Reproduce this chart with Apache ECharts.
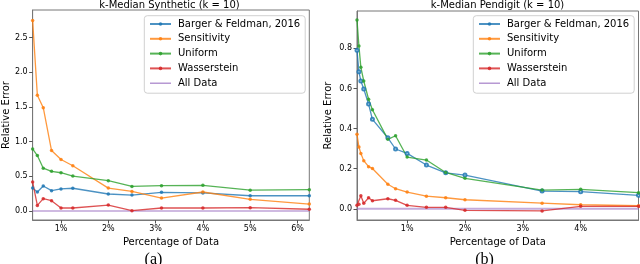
<!DOCTYPE html>
<html>
<head>
<meta charset="utf-8">
<script src="https://cdn.jsdelivr.net/npm/echarts@6/dist/echarts.min.js"></script>
<style>
html,body{margin:0;padding:0;background:#fff;}
#c{width:640px;height:264px;}
</style>
</head>
<body>
<div id="c"></div>
<script>
// ---- Data: (a) k-Median Synthetic ----
const xSynthetic = [0.4, 0.5, 0.625, 0.8, 1, 1.25, 2, 2.5, 3.125, 4, 5, 6.25];
const synBarger = [0.33, 0.274, 0.36, 0.293, 0.318, 0.328, 0.245, 0.23, 0.27, 0.26, 0.22, 0.22];
const synSensitivity = [2.75, 1.67, 1.49, 0.872, 0.743, 0.653, 0.33, 0.283, 0.187, 0.274, 0.168, 0.10];
const synUniform = [0.895, 0.80, 0.617, 0.572, 0.552, 0.504, 0.437, 0.355, 0.365, 0.37, 0.30, 0.307];
const synWasserstein = [0.42, 0.08, 0.178, 0.148, 0.043, 0.043, 0.086, 0.005, 0.043, 0.043, 0.048, 0.025];
const synAllData = [0, 0, 0, 0, 0, 0, 0, 0, 0, 0, 0, 0];
const synXTicks = [1, 2, 3, 4, 5, 6];
const synYTicks = [0, 0.5, 1.0, 1.5, 2.0, 2.5];

// ---- Data: (b) k-Median Pendigit ----
const xPendigit = [0.1333, 0.1667, 0.2, 0.25, 0.3333, 0.4, 0.6667, 0.8, 1, 1.3333, 1.6667, 2, 3.3333, 4, 5];
const penBarger = [0.79, 0.683, 0.637, 0.597, 0.522, 0.446, 0.354, 0.298, 0.276, 0.218, 0.179, 0.168, 0.088, 0.085, 0.067];
const penSensitivity = [0.371, 0.308, 0.276, 0.24, 0.21, 0.201, 0.122, 0.10, 0.083, 0.063, 0.055, 0.045, 0.028, 0.02, 0.015];
const penUniform = [0.941, 0.811, 0.705, 0.637, 0.546, 0.494, 0.346, 0.364, 0.258, 0.243, 0.181, 0.152, 0.093, 0.097, 0.080];
const penWasserstein = [0.017, 0.022, 0.065, 0.027, 0.055, 0.04, 0.05, 0.042, 0.017, 0.007, 0.007, -0.008, -0.011, 0.012, 0.012];
const penAllData = [0, 0, 0, 0, 0, 0, 0, 0, 0, 0, 0, 0, 0, 0, 0];
const penXTicks = [1, 2, 3, 4];
const penYTicks = [0, 0.2, 0.4, 0.6, 0.8];

const names = ['Barger & Feldman, 2016', 'Sensitivity', 'Uniform', 'Wasserstein', 'All Data'];
const colors = ['#1f77b4', '#ff7f0e', '#2ca02c', '#d62728', '#9467bd'];

const FONT = 'DejaVu Sans';
const zip = (xs, ys) => xs.map((x, i) => [x, ys[i]]);

function mkSeries(gi, xs, ys, idx, opts) {
  opts = opts || {};
  return {
    type: 'line',
    name: names[idx],
    xAxisIndex: gi, yAxisIndex: gi,
    data: zip(xs, ys),
    symbol: opts.symbol || 'circle',
    symbolSize: opts.symbolSize || 3.5,
    showSymbol: opts.noSymbol ? false : true,
    clip: true,
    animation: false,
    color: colors[idx],
    itemStyle: {color: colors[idx], opacity: 0.85, borderWidth: opts.borderWidth || 0, borderColor: colors[idx]},
    lineStyle: {color: colors[idx], width: opts.width || 1.3, opacity: opts.opacity || 0.8},
    emphasis: {disabled: true},
    z: opts.z || 2
  };
}

function xAxisCfg(gi, min, max, ticks) {
  return {
    type: 'value', gridIndex: gi, min: min, max: max,
    name: 'Percentage of Data', nameLocation: 'middle', nameGap: 12,
    nameTextStyle: {fontFamily: FONT, fontSize: 10, color: '#000'},
    axisLine: {show: true, onZero: false, lineStyle: {color: '#777', width: 1}},
    axisTick: {show: true, length: 3.5, customValues: ticks, lineStyle: {color: '#555'}},
    axisLabel: {customValues: ticks, formatter: v => v + '%', fontFamily: FONT, fontSize: 8, color: '#000', margin: 5},
    splitLine: {show: false}
  };
}
function yAxisCfg(gi, min, max, ticks, gap) {
  return {
    type: 'value', gridIndex: gi, min: min, max: max,
    name: 'Relative Error', nameLocation: 'middle', nameGap: gap,
    nameTextStyle: {fontFamily: FONT, fontSize: 10, color: '#000'},
    axisLine: {show: true, onZero: false, lineStyle: {color: '#777', width: 1}},
    axisTick: {show: true, length: 3.5, customValues: ticks, lineStyle: {color: '#555'}},
    axisLabel: {customValues: ticks, formatter: v => v.toFixed(1), fontFamily: FONT, fontSize: 8, color: '#000', margin: 5},
    splitLine: {show: false}
  };
}
function legendCfg(left, top, hollowFirst) {
  const data = names.map((n, i) => {
    if (i === 4) return {name: n, icon: 'path://M0,0H21V1.2H0Z'};
    return {name: n};
  });
  return {
    left: left, top: top, orient: 'vertical',
    itemWidth: 21, itemHeight: 4.5, itemGap: 4.8,
    padding: [3.3, 5, 5, 4.7],
    backgroundColor: 'rgba(255,255,255,0.85)',
    borderColor: '#d0d0d0', borderWidth: 1, borderRadius: 3,
    textStyle: {fontFamily: FONT, fontSize: 10, color: '#000', padding: [0, 0, 0, 2]},
    selectedMode: false,
    data: data
  };
}

const chart = echarts.init(document.getElementById('c'), null, {renderer: 'canvas'});
chart.setOption({
  animation: false,
  backgroundColor: '#fff',
  grid: [
    {left: 28.5, right: 330.7, top: 10, bottom: 44, show: true, borderColor: '#777', borderWidth: 1, containLabel: false},
    {left: 357, right: 1.5, top: 11, bottom: 44, show: true, borderColor: '#777', borderWidth: 1, containLabel: false}
  ],
  xAxis: [
    xAxisCfg(0, 0.4, 6.25, synXTicks),
    xAxisCfg(1, 0.1333, 5, penXTicks)
  ],
  yAxis: [
    yAxisCfg(0, -0.13, 2.9, synYTicks, 18),
    yAxisCfg(1, -0.056, 0.986, penYTicks, 23.5)
  ],
  legend: [legendCfg(144.3, 15.7), legendCfg(473.3, 15.7)],
  graphic: [
    {type: 'text', x: 169.5, y: 5, style: {text: 'k-Median Synthetic (k = 10)', fontFamily: FONT, fontSize: 10, fill: '#000', align: 'center', verticalAlign: 'middle'}},
    {type: 'text', x: 497.5, y: 5, style: {text: 'k-Median Pendigit (k = 10)', fontFamily: FONT, fontSize: 10, fill: '#000', align: 'center', verticalAlign: 'middle'}},
    {type: 'text', x: 153.5, y: 252, style: {text: '(a)', fontFamily: 'Liberation Serif', fontSize: 16, fill: '#000', align: 'center', verticalAlign: 'top'}},
    {type: 'text', x: 484.5, y: 252, style: {text: '(b)', fontFamily: 'Liberation Serif', fontSize: 16, fill: '#000', align: 'center', verticalAlign: 'top'}}
  ],
  series: [
    mkSeries(0, xSynthetic, synBarger, 0),
    mkSeries(0, xSynthetic, synSensitivity, 1),
    mkSeries(0, xSynthetic, synUniform, 2),
    mkSeries(0, xSynthetic, synWasserstein, 3),
    mkSeries(0, xSynthetic, synAllData, 4, {noSymbol: true, symbol: 'none', width: 1.2, opacity: 0.9, z: 1}),
    mkSeries(1, xPendigit, penBarger, 0, {symbol: 'emptyCircle', symbolSize: 3, borderWidth: 1}),
    mkSeries(1, xPendigit, penSensitivity, 1),
    mkSeries(1, xPendigit, penUniform, 2),
    mkSeries(1, xPendigit, penWasserstein, 3),
    mkSeries(1, xPendigit, penAllData, 4, {noSymbol: true, symbol: 'none', width: 2.2, opacity: 0.55, z: 1})
  ]
});
</script>
</body>
</html>
